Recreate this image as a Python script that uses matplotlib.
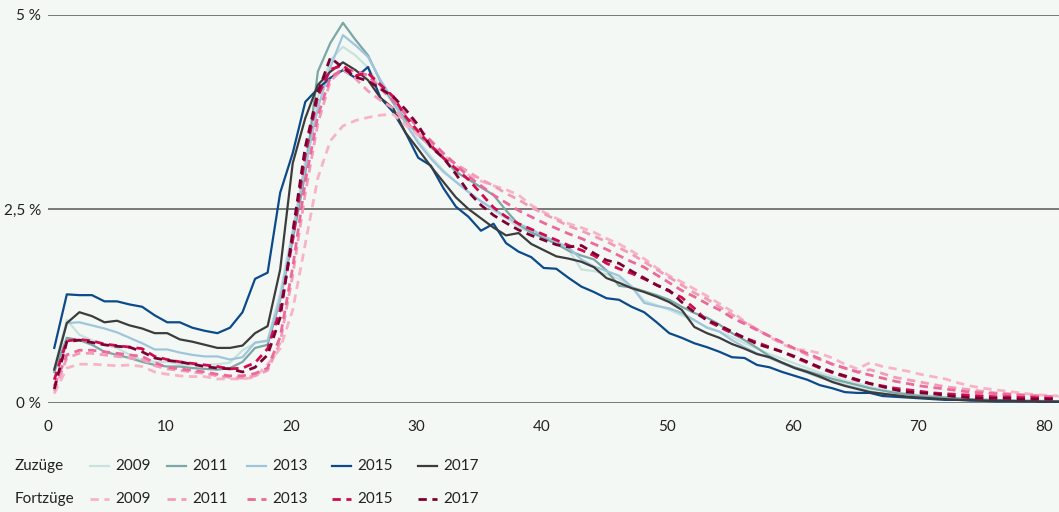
import matplotlib
matplotlib.use("Agg")
import matplotlib.pyplot as plt
from matplotlib.lines import Line2D
import numpy as np

plt.rcParams['font.family'] = ['Lato', 'DejaVu Sans']

ages = np.arange(81)

# Zuzüge (Anteil in %), nach Alter 0..80
zu_2009 = [0.45, 1.07, 0.88, 0.81, 0.75, 0.71, 0.62, 0.55, 0.53, 0.53, 0.50, 0.49, 0.49, 0.50, 0.52, 0.68, 0.77, 0.81,
           1.42, 2.23, 3.13, 3.94, 4.42, 4.59, 4.48, 4.32, 4.07, 3.87, 3.60, 3.38, 3.18, 3.00, 2.85, 2.72, 2.60, 2.48,
           2.38, 2.27, 2.19, 2.12, 2.05, 1.97, 1.72, 1.70, 1.66, 1.60, 1.50, 1.32, 1.26, 1.20, 1.13, 1.06, 0.98, 0.92,
           0.85, 0.77, 0.70, 0.63, 0.57, 0.51, 0.45, 0.39, 0.34, 0.29, 0.25, 0.21, 0.17, 0.14, 0.12, 0.10, 0.09, 0.07,
           0.06, 0.05, 0.05, 0.04, 0.04, 0.03, 0.03, 0.03, 0.02]
zu_2011 = [0.40, 0.84, 0.81, 0.75, 0.66, 0.62, 0.58, 0.53, 0.49, 0.47, 0.47, 0.45, 0.44, 0.43, 0.45, 0.53, 0.71, 0.75,
           1.33, 2.10, 2.96, 4.27, 4.64, 4.90, 4.68, 4.48, 4.14, 3.87, 3.65, 3.45, 3.30, 3.15, 2.98, 2.88, 2.78, 2.68,
           2.48, 2.30, 2.20, 2.13, 2.05, 1.96, 1.90, 1.85, 1.71, 1.51, 1.49, 1.44, 1.39, 1.33, 1.24, 1.16, 1.10, 1.01,
           0.90, 0.81, 0.71, 0.60, 0.52, 0.46, 0.41, 0.36, 0.31, 0.27, 0.23, 0.19, 0.16, 0.13, 0.11, 0.09, 0.08, 0.07,
           0.06, 0.05, 0.04, 0.04, 0.03, 0.03, 0.03, 0.02, 0.02]
zu_2013 = [0.42, 1.03, 1.04, 1.00, 0.96, 0.91, 0.84, 0.77, 0.69, 0.69, 0.65, 0.62, 0.60, 0.60, 0.56, 0.59, 0.78, 0.80,
           1.35, 2.19, 3.05, 3.80, 4.33, 4.74, 4.61, 4.46, 4.16, 3.90, 3.60, 3.35, 3.15, 2.98, 2.85, 2.72, 2.60, 2.50,
           2.40, 2.31, 2.24, 2.15, 2.08, 2.00, 1.85, 1.76, 1.70, 1.64, 1.50, 1.29, 1.25, 1.22, 1.16, 1.07, 0.97, 0.92,
           0.81, 0.72, 0.64, 0.58, 0.51, 0.45, 0.39, 0.33, 0.28, 0.23, 0.19, 0.15, 0.12, 0.10, 0.08, 0.07, 0.06, 0.05,
           0.04, 0.04, 0.03, 0.03, 0.03, 0.02, 0.02, 0.02, 0.02]
zu_2015 = [0.71, 1.40, 1.39, 1.39, 1.31, 1.31, 1.27, 1.24, 1.13, 1.04, 1.04, 0.97, 0.93, 0.90, 0.97, 1.17, 1.60, 1.68,
           2.71, 3.22, 3.88, 4.05, 4.19, 4.29, 4.19, 4.33, 3.93, 3.75, 3.48, 3.16, 3.06, 2.77, 2.53, 2.40, 2.22, 2.31,
           2.06, 1.95, 1.88, 1.74, 1.73, 1.61, 1.50, 1.43, 1.35, 1.33, 1.24, 1.17, 1.04, 0.90, 0.84, 0.77, 0.72, 0.66,
           0.59, 0.58, 0.49, 0.46, 0.40, 0.35, 0.30, 0.23, 0.19, 0.14, 0.13, 0.13, 0.09, 0.08, 0.07, 0.06, 0.05, 0.04,
           0.04, 0.03, 0.03, 0.02, 0.02, 0.02, 0.02, 0.01, 0.01]
zu_2017 = [0.43, 1.03, 1.17, 1.12, 1.04, 1.06, 1.00, 0.96, 0.90, 0.90, 0.82, 0.79, 0.75, 0.71, 0.71, 0.74, 0.90, 0.99,
           1.72, 3.09, 3.67, 4.10, 4.27, 4.39, 4.29, 4.16, 3.93, 3.80, 3.48, 3.27, 3.05, 2.85, 2.65, 2.50, 2.38, 2.26,
           2.16, 2.19, 2.05, 1.97, 1.89, 1.86, 1.82, 1.75, 1.61, 1.55, 1.48, 1.43, 1.37, 1.30, 1.20, 0.98, 0.90, 0.84,
           0.76, 0.70, 0.63, 0.59, 0.52, 0.45, 0.40, 0.34, 0.27, 0.22, 0.18, 0.14, 0.12, 0.10, 0.08, 0.07, 0.06, 0.05,
           0.04, 0.04, 0.03, 0.03, 0.03, 0.02, 0.02, 0.02, 0.02]

# Fortzüge (Anteil in %), nach Alter 0..80
fort_2009 = [0.12, 0.45, 0.50, 0.50, 0.49, 0.48, 0.49, 0.47, 0.40, 0.37, 0.35, 0.34, 0.34, 0.31, 0.31, 0.31, 0.33, 0.50,
             0.70, 1.20, 2.05, 2.90, 3.38, 3.57, 3.64, 3.68, 3.71, 3.72, 3.58, 3.45, 3.32, 3.20, 3.06, 2.94, 2.86, 2.80,
             2.75, 2.68, 2.55, 2.46, 2.38, 2.31, 2.26, 2.20, 2.12, 2.05, 1.96, 1.86, 1.74, 1.64, 1.56, 1.47, 1.38, 1.28,
             1.18, 1.05, 0.95, 0.85, 0.76, 0.69, 0.68, 0.64, 0.58, 0.50, 0.44, 0.52, 0.47, 0.44, 0.41, 0.37, 0.34, 0.31,
             0.26, 0.22, 0.19, 0.17, 0.15, 0.13, 0.11, 0.10, 0.09]
fort_2011 = [0.15, 0.58, 0.64, 0.64, 0.62, 0.60, 0.58, 0.56, 0.48, 0.44, 0.42, 0.40, 0.38, 0.35, 0.33, 0.32, 0.35, 0.42,
             0.78, 1.65, 2.70, 3.60, 4.15, 4.30, 4.18, 4.02, 3.90, 3.80, 3.62, 3.48, 3.34, 3.20, 3.08, 2.98, 2.88, 2.80,
             2.70, 2.62, 2.52, 2.44, 2.36, 2.28, 2.22, 2.15, 2.08, 2.00, 1.92, 1.82, 1.72, 1.62, 1.52, 1.42, 1.34, 1.24,
             1.14, 1.04, 0.95, 0.86, 0.78, 0.70, 0.62, 0.56, 0.50, 0.45, 0.40, 0.43, 0.38, 0.33, 0.30, 0.27, 0.24, 0.21,
             0.19, 0.17, 0.15, 0.13, 0.12, 0.11, 0.10, 0.09, 0.08]
fort_2013 = [0.22, 0.62, 0.68, 0.68, 0.66, 0.64, 0.62, 0.60, 0.52, 0.46, 0.44, 0.42, 0.40, 0.37, 0.35, 0.35, 0.38, 0.45,
             0.85, 1.75, 2.85, 3.70, 4.20, 4.30, 4.28, 4.22, 4.05, 3.90, 3.72, 3.55, 3.38, 3.22, 3.07, 2.92, 2.80, 2.68,
             2.58, 2.48, 2.40, 2.32, 2.25, 2.18, 2.12, 2.05, 1.98, 1.90, 1.82, 1.75, 1.65, 1.55, 1.45, 1.37, 1.28, 1.20,
             1.10, 1.02, 0.94, 0.86, 0.78, 0.70, 0.64, 0.57, 0.50, 0.45, 0.40, 0.36, 0.32, 0.28, 0.25, 0.22, 0.20, 0.18,
             0.16, 0.14, 0.13, 0.12, 0.11, 0.10, 0.09, 0.08, 0.08]
fort_2015 = [0.30, 0.80, 0.82, 0.80, 0.76, 0.74, 0.72, 0.70, 0.60, 0.56, 0.53, 0.51, 0.49, 0.47, 0.44, 0.45, 0.52, 0.70,
             1.20, 2.10, 3.20, 3.95, 4.30, 4.35, 4.22, 4.25, 4.10, 3.95, 3.69, 3.50, 3.32, 3.16, 3.02, 2.88, 2.70, 2.52,
             2.40, 2.31, 2.24, 2.17, 2.10, 2.03, 1.97, 1.90, 1.80, 1.73, 1.67, 1.60, 1.52, 1.44, 1.36, 1.22, 1.06, 0.98,
             0.90, 0.84, 0.78, 0.72, 0.66, 0.59, 0.52, 0.45, 0.39, 0.34, 0.29, 0.25, 0.22, 0.19, 0.17, 0.15, 0.13, 0.12,
             0.11, 0.10, 0.09, 0.08, 0.08, 0.07, 0.07, 0.06, 0.06]
fort_2017 = [0.18, 0.79, 0.81, 0.78, 0.75, 0.73, 0.72, 0.66, 0.58, 0.55, 0.53, 0.50, 0.47, 0.45, 0.44, 0.40, 0.46, 0.62,
             1.10, 2.20, 3.30, 4.00, 4.45, 4.32, 4.20, 4.15, 4.05, 3.95, 3.78, 3.58, 3.30, 3.16, 2.95, 2.72, 2.55, 2.42,
             2.32, 2.23, 2.16, 2.10, 2.04, 2.01, 2.03, 1.93, 1.84, 1.80, 1.70, 1.61, 1.52, 1.45, 1.30, 1.17, 1.07, 1.00,
             0.92, 0.84, 0.76, 0.71, 0.66, 0.60, 0.53, 0.46, 0.40, 0.35, 0.30, 0.25, 0.21, 0.17, 0.14, 0.13, 0.12, 0.10,
             0.08, 0.07, 0.06, 0.06, 0.06, 0.05, 0.05, 0.05, 0.05]

years = ['2009', '2011', '2013', '2015', '2017']
tick_labels = ['0', '10', '20', '30', '40', '50', '60', '70', '80']
zu_colors = ['#c6e3dc', '#7ba7a5', '#9fc5dd', '#0b4a8b', '#3c3c3c']
fort_colors = ['#f7b4c8', '#f39cb9', '#ec6a9b', '#d20a4e', '#7c0033']

bg = '#f4f8f5'
fig = plt.figure(figsize=(10.59, 5.12), dpi=100, facecolor=bg)
ax = fig.add_axes([48 / 1059, 109 / 512, 1 - 48 / 1059, 388 / 512])
ax.set_facecolor(bg)

for yv in [0, 2.5, 5]:
    ax.axhline(yv, color='#555555', lw=1.1, zorder=1)

x = ages + 0.5
zu = [zu_2009, zu_2011, zu_2013, zu_2015, zu_2017]
fort = [fort_2009, fort_2011, fort_2013, fort_2015, fort_2017]
for vals, c in zip(zu, zu_colors):
    ax.plot(x, vals, color=c, lw=1.6, zorder=2)
for vals, c in zip(fort, fort_colors):
    ax.plot(x, vals, color=c, lw=2.0, ls=(0, (3, 2)), zorder=3)

ax.set_xlim(0, (1059 - 48) / 12.55)
ax.set_ylim(0, 5)
# labels in the original sit slightly left of the age they name (first one pinned to the edge)
ax.set_xticks([0] + [10 * k - 0.65 for k in range(1, 9)])
ax.set_xticklabels(tick_labels)
ax.set_yticks([0, 2.5, 5])
ax.set_yticklabels(['0 %', '2,5 %', '5 %'])
ax.tick_params(length=0, labelsize=11, colors='#222222')
ax.tick_params(axis='x', pad=12)
ax.tick_params(axis='y', pad=5)
for s in ax.spines.values():
    s.set_visible(False)

# legend drawn by hand, two rows
rows = [('Zuzüge', 466, zu_colors, '-', 1.6), ('Fortzüge', 499, fort_colors, (0, (3, 2)), 2.0)]
handle_x = [90, 167, 247, 332, 418]
for label, ypx, cols, ls, lw in rows:
    yf = 1 - ypx / 512
    fig.text(15 / 1059, yf, label, fontsize=11, va='center', ha='left', color='#222222')
    for hx, c, yr in zip(handle_x, cols, years):
        fig.add_artist(Line2D([hx / 1059, (hx + 19) / 1059], [yf, yf], color=c, lw=lw, ls=ls,
                              transform=fig.transFigure))
        fig.text((hx + 25) / 1059, yf, yr, fontsize=11, va='center', ha='left', color='#222222')

fig.savefig('out.png', dpi=100, facecolor=bg)
